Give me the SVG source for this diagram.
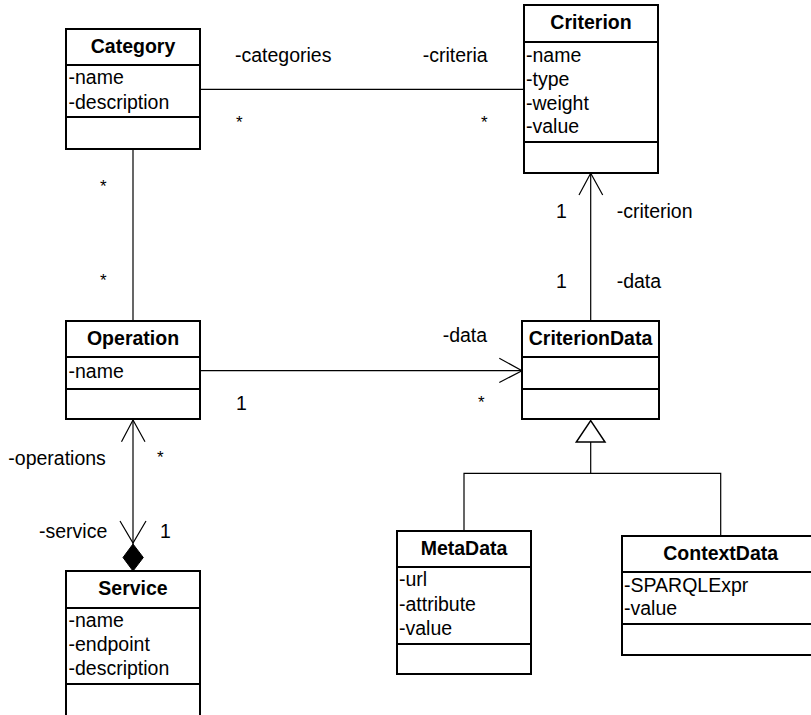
<svg xmlns="http://www.w3.org/2000/svg" width="811" height="715" viewBox="0 0 811 715">
<style>
text{font-family:"Liberation Sans",Arial,sans-serif;font-size:19.5px;fill:#000}
.t{font-weight:bold;text-anchor:middle}
.s{font-size:17px}
.box{fill:#fff;stroke:#000;stroke-width:2}
.div{stroke:#000;stroke-width:2}
.c{fill:none;stroke:#000;stroke-width:1.2}
</style>
<rect width="811" height="715" fill="#fff"/>
<g id="connectors">
  <line class="c" x1="200" y1="89.3" x2="524" y2="89.3"/>
  <line class="c" x1="133" y1="149" x2="133" y2="321"/>
  <line class="c" x1="200" y1="370.7" x2="522" y2="370.7"/>
  <polyline class="c" points="499.3,358.3 522,370.7 499.3,382.5"/>
  <line class="c" x1="590.7" y1="321" x2="590.7" y2="173"/>
  <polyline class="c" points="579,195 590.7,173.3 602.7,195"/>
  <line class="c" x1="133" y1="419" x2="133" y2="544"/>
  <polyline class="c" points="121.5,441.7 133,420 145,441.7"/>
  <polyline class="c" points="120,521 133,543 146,521"/>
  <polygon points="133,544 143.3,557.5 133,571 123,557.5" fill="#000" stroke="#000" stroke-width="1"/>
  <polygon points="590.7,420.7 605,442 576.3,442" fill="#fff" stroke="#000" stroke-width="1.5"/>
  <polyline class="c" points="590.7,442 590.7,473.3 464,473.3 464,531"/>
  <polyline class="c" points="590.7,473.3 720.7,473.3 720.7,536"/>
  <text x="235" y="61.7">-categories</text>
  <text x="422.7" y="61.7">-criteria</text>
  <text class="s" x="236" y="128">*</text>
  <text class="s" x="481" y="128">*</text>
  <text class="s" x="100" y="192">*</text>
  <text class="s" x="100" y="285.5">*</text>
  <text x="556" y="218.3">1</text>
  <text x="616.7" y="218.3">-criterion</text>
  <text x="556" y="288.3">1</text>
  <text x="616.7" y="288.3">-data</text>
  <text x="442.7" y="341.7">-data</text>
  <text class="s" x="478" y="407.5">*</text>
  <text x="236" y="410">1</text>
  <text x="8.3" y="465">-operations</text>
  <text class="s" x="157" y="462.5">*</text>
  <text x="39" y="538">-service</text>
  <text x="160" y="538">1</text>
</g>
<g id="Category">
  <rect class="box" x="66" y="29" width="134" height="120"/>
  <line class="div" x1="66" y1="65" x2="200" y2="65"/>
  <line class="div" x1="66" y1="117" x2="200" y2="117"/>
  <text class="t" x="133" y="53.3">Category</text>
  <text x="68.5" y="84.3">-name</text>
  <text x="68.5" y="108.5">-description</text>
</g>
<g id="Criterion">
  <rect class="box" x="524" y="5" width="134" height="168"/>
  <line class="div" x1="524" y1="42" x2="658" y2="42"/>
  <line class="div" x1="524" y1="142" x2="658" y2="142"/>
  <text class="t" x="591" y="29">Criterion</text>
  <text x="526" y="61.5">-name</text>
  <text x="526" y="85.5">-type</text>
  <text x="526" y="109.5">-weight</text>
  <text x="526" y="133">-value</text>
</g>
<g id="Operation">
  <rect class="box" x="66" y="321" width="134" height="98"/>
  <line class="div" x1="66" y1="357" x2="200" y2="357"/>
  <line class="div" x1="66" y1="389" x2="200" y2="389"/>
  <text class="t" x="133" y="345">Operation</text>
  <text x="68.5" y="377.7">-name</text>
</g>
<g id="CriterionData">
  <rect class="box" x="522" y="321" width="137" height="98"/>
  <line class="div" x1="522" y1="357" x2="659" y2="357"/>
  <line class="div" x1="522" y1="389" x2="659" y2="389"/>
  <text class="t" x="590.5" y="345">CriterionData</text>
</g>
<g id="Service">
  <rect class="box" x="66" y="571" width="134" height="160"/>
  <line class="div" x1="66" y1="608" x2="200" y2="608"/>
  <line class="div" x1="66" y1="684" x2="200" y2="684"/>
  <text class="t" x="133" y="595">Service</text>
  <text x="68.5" y="627">-name</text>
  <text x="68.5" y="651">-endpoint</text>
  <text x="68.5" y="675">-description</text>
</g>
<g id="MetaData">
  <rect class="box" x="397" y="531" width="134" height="143"/>
  <line class="div" x1="397" y1="567" x2="531" y2="567"/>
  <line class="div" x1="397" y1="644" x2="531" y2="644"/>
  <text class="t" x="464" y="555">MetaData</text>
  <text x="399" y="586">-url</text>
  <text x="399" y="610.5">-attribute</text>
  <text x="399" y="634.5">-value</text>
</g>
<g id="ContextData">
  <rect class="box" x="622" y="536" width="198" height="119"/>
  <line class="div" x1="622" y1="572" x2="820" y2="572"/>
  <line class="div" x1="622" y1="624" x2="820" y2="624"/>
  <text class="t" x="720.7" y="560">ContextData</text>
  <text x="624" y="591.7">-SPARQLExpr</text>
  <text x="624" y="615">-value</text>
</g>
</svg>
